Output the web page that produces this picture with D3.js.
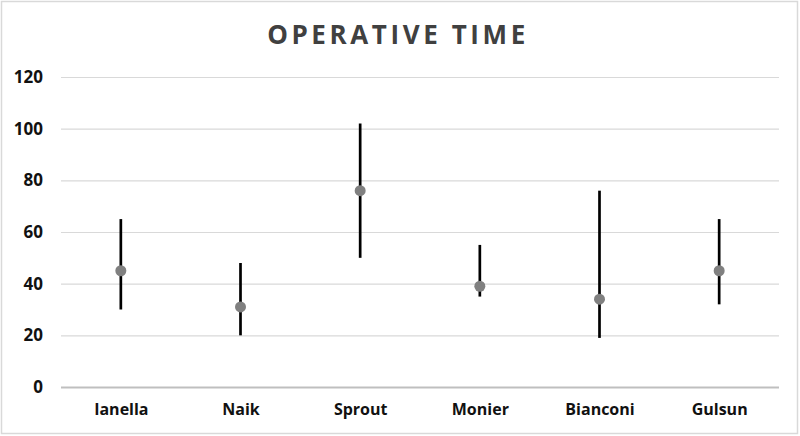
<!DOCTYPE html>
<meta charset="utf-8">
<script src="https://d3js.org/d3.v7.min.js"></script>
<style>
  body { margin: 0; background: #fff; }
</style>
<div id="chart"></div>
<script>

// data
var studies = ["Ianella", "Naik", "Sprout", "Monier", "Bianconi", "Gulsun"];
var midValues = [45, 31, 76, 39, 34, 45];
var lowValues = [30, 20, 50, 35, 19, 32];
var highValues = [65, 48, 102, 55, 76, 65];
var yTicks = [0, 20, 40, 60, 80, 100, 120];

var W = 800, H = 436;
var margin = {top: 77, right: 21, bottom: 49, left: 61};

var svg = d3.select("#chart")
    .append("svg")
    .attr("width", W)
    .attr("height", H);

// outer border
svg.append("rect").attr("x", 1.5).attr("y", 1.5).attr("width", W - 4).attr("height", H - 4)
    .attr("fill", "#fff").attr("stroke", "#d9d9d9").attr("stroke-width", 1.5);

// title
svg.append("text").attr("x", 398).attr("y", 43.5).text("OPERATIVE TIME")
    .attr("text-anchor", "middle")
    .style("font-family", "'Open Sans', sans-serif")
    .style("font-size", "26px").style("font-weight", 700)
    .style("letter-spacing", "3.6px")
    .attr("fill", "#404040");

var x = d3.scalePoint()
    .domain(studies)
    .range([margin.left, W - margin.right])
    .padding(0.5);

var y = d3.scaleLinear()
    .domain([0, 120])
    .range([H - margin.bottom, margin.top]);

// y axis + grid
var yAxis = svg.append("g")
    .attr("transform", `translate(${margin.left}, 0)`)
    .call(d3.axisLeft(y).tickValues(yTicks).tickSize(-(W - margin.left - margin.right)).tickPadding(18))
    .call(g => g.select(".domain").remove());

yAxis.selectAll("line").attr("stroke", d => d === 0 ? "#bfbfbf" : "#d9d9d9")
    .attr("stroke-width", d => d === 0 ? 2 : 1.2);
yAxis.selectAll("text")
    .style("font-family", "'Open Sans', sans-serif")
    .style("font-size", "17px").style("font-weight", 700)
    .attr("fill", "#111");

// x axis labels
var xAxis = svg.append("g")
    .attr("transform", `translate(0, ${H - margin.bottom})`)
    .call(d3.axisBottom(x).tickSize(0).tickPadding(17))
    .call(g => g.select(".domain").remove());

xAxis.selectAll("text")
    .style("font-family", "'Open Sans', sans-serif")
    .style("font-size", "16px").style("font-weight", 700)
    .attr("fill", "#111");

// range lines
svg.append("g")
    .selectAll("line")
    .data(studies)
    .join("line")
    .attr("x1", d => x(d))
    .attr("x2", d => x(d))
    .attr("y1", (d, i) => y(lowValues[i]))
    .attr("y2", (d, i) => y(highValues[i]))
    .attr("stroke", "#000")
    .attr("stroke-width", 2.7);

// points
svg.append("g")
    .selectAll("circle")
    .data(studies)
    .join("circle")
    .attr("cx", d => x(d))
    .attr("cy", (d, i) => y(midValues[i]))
    .attr("r", 5.5)
    .attr("fill", "#808080");

</script>
